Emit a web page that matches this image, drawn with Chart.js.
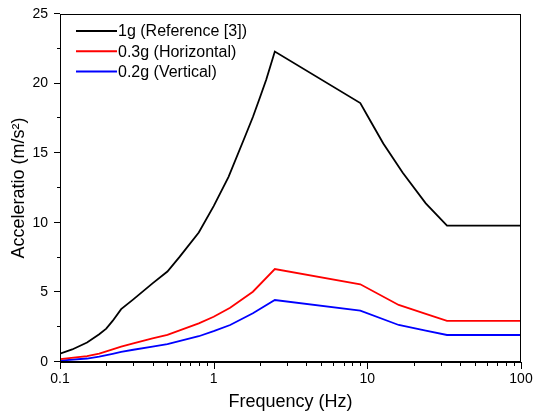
<!DOCTYPE html>
<html>
<head>
<meta charset="utf-8">
<script src="https://cdn.jsdelivr.net/npm/chart.js@4"></script>
<style>
  html, body { margin: 0; padding: 0; background: #fff; }
  #wrap { width: 534px; height: 415px; }
</style>
</head>
<body>
<div id="wrap"><canvas id="c" width="534" height="415"></canvas></div>
<script>
const seriesLabels = ['1g (Reference [3])', '0.3g (Horizontal)', '0.2g (Vertical)'];
const seriesColors = ['#000000', '#ff0000', '#0000ff'];

const blackFreq = [0.1, 0.12, 0.15, 0.18, 0.2, 0.22, 0.25, 0.3, 0.4, 0.5, 0.6, 0.8, 1, 1.25, 1.6, 1.8, 2, 2.2, 2.5, 9, 10.5, 12.7, 17, 24, 33, 100];
const blackAcc  = [0.6, 0.9, 1.4, 2.0, 2.4, 2.95, 3.8, 4.5, 5.65, 6.5, 7.55, 9.3, 11.2, 13.3, 16.2, 17.6, 19.0, 20.3, 22.3, 18.6, 17.3, 15.7, 13.6, 11.4, 9.8, 9.8];

const redFreq = [0.1, 0.15, 0.18, 0.22, 0.25, 0.3, 0.4, 0.5, 0.8, 1, 1.28, 1.8, 2.5, 9, 16, 24, 33, 100];
const redAcc  = [0.2, 0.42, 0.6, 0.9, 1.1, 1.34, 1.69, 1.95, 2.78, 3.25, 3.9, 5.05, 6.68, 5.58, 4.1, 3.45, 2.96, 2.96];

const blueFreq = [0.1, 0.15, 0.18, 0.22, 0.25, 0.3, 0.4, 0.5, 0.8, 1, 1.28, 1.8, 2.5, 9, 16, 24, 33, 100];
const blueAcc  = [0.1, 0.25, 0.38, 0.58, 0.72, 0.88, 1.1, 1.29, 1.85, 2.22, 2.66, 3.5, 4.45, 3.69, 2.66, 2.25, 1.94, 1.94];

const xTickLabels = ['0.1', '1', '10', '100'];
const yTickValues = [0, 5, 10, 15, 20, 25];

const xTitle = 'Frequency (Hz)';
const yTitle = 'Acceleratio (m/s\u00B2)';

const FONT = '"Liberation Sans", Arial, sans-serif';

function toPoints(xs, ys) { return xs.map((x, i) => ({ x: x, y: ys[i] })); }

const tickMarks = {
  id: 'tickMarks',
  afterDraw(chart) {
    const ctx = chart.ctx;
    const xs = chart.scales.x, ys = chart.scales.y;
    const a = chart.chartArea;
    ctx.save();
    ctx.strokeStyle = '#000';
    ctx.lineWidth = 1;
    ctx.strokeRect(Math.round(a.left) + 0.5, Math.round(a.top) + 0.5, Math.round(a.right - a.left) - 1, Math.round(a.bottom - a.top) - 1);
    ctx.beginPath();
    for (let k = -1; k <= 2; k++) {
      for (let m = 1; m <= 9; m++) {
        const f = m * Math.pow(10, k);
        if (f < xs.min * 0.999 || f > xs.max * 1.001) continue;
        const px = Math.round(xs.getPixelForValue(f)) + 0.5;
        const len = m === 1 ? 7 : 4;
        ctx.moveTo(px, a.bottom);
        ctx.lineTo(px, a.bottom + len);
      }
    }
    for (let i = 0; i <= 10; i++) {
      const v = i * 2.5;
      const py = Math.round(ys.getPixelForValue(v)) - 0.5;
      const len = i % 2 === 0 ? 6 : 3;
      ctx.moveTo(a.left, py);
      ctx.lineTo(a.left - len, py);
    }
    ctx.stroke();
    ctx.restore();
  }
};

const innerLegend = {
  id: 'innerLegend',
  afterDraw(chart) {
    const ctx = chart.ctx;
    const a = chart.chartArea;
    ctx.save();
    ctx.font = '16px ' + FONT;
    ctx.textBaseline = 'middle';
    ctx.textAlign = 'left';
    chart.data.datasets.forEach((ds, i) => {
      const y = a.top + 17 + i * 20.3;
      ctx.strokeStyle = ds.borderColor;
      ctx.lineWidth = 2;
      ctx.beginPath();
      ctx.moveTo(a.left + 16, y);
      ctx.lineTo(a.left + 57, y);
      ctx.stroke();
      ctx.fillStyle = '#000';
      ctx.fillText(ds.label, a.left + 58, y + 1);
    });
    ctx.restore();
  }
};

new Chart(document.getElementById('c'), {
  type: 'line',
  data: {
    datasets: [
      { label: seriesLabels[0], data: toPoints(blackFreq, blackAcc), borderColor: seriesColors[0] },
      { label: seriesLabels[1], data: toPoints(redFreq, redAcc), borderColor: seriesColors[1] },
      { label: seriesLabels[2], data: toPoints(blueFreq, blueAcc), borderColor: seriesColors[2] }
    ].map(d => Object.assign(d, { borderWidth: 1.8, pointRadius: 0, tension: 0, fill: false, backgroundColor: d.borderColor }))
  },
  options: {
    responsive: false,
    animation: false,
    layout: { padding: { left: 0, top: 14, right: 13, bottom: 0 } },
    plugins: { legend: { display: false }, tooltip: { enabled: false } },
    scales: {
      x: {
        type: 'logarithmic',
        min: 0.1, max: 100,
        grid: { display: false, drawTicks: false },
        border: { display: true, color: '#000', width: 1 },
        afterFit: s => { s.height = 53; s.paddingLeft = 0; s.paddingRight = 0; },
        ticks: {
          autoSkip: false, maxRotation: 0, minRotation: 0, padding: 9,
          color: '#000', font: { family: FONT, size: 14 },
          callback: function (v) {
            const s = String(Number(v.toPrecision(3)));
            return xTickLabels.includes(s) ? s : '';
          }
        },
        title: { display: true, text: xTitle, color: '#000', font: { family: FONT, size: 18 }, padding: { top: 0, bottom: 2 } }
      },
      y: {
        type: 'linear',
        min: 0, max: 25,
        grid: { display: false, drawTicks: false },
        border: { display: true, color: '#000', width: 1 },
        afterFit: s => { s.width = 60; s.paddingTop = 0; s.paddingBottom = 0; },
        afterBuildTicks: s => { s.ticks = yTickValues.map(v => ({ value: v })); },
        ticks: { padding: 12, color: '#000', font: { family: FONT, size: 14 } },
        title: { display: true, text: yTitle, color: '#000', font: { family: FONT, size: 18 }, padding: { top: 8, bottom: 0 } }
      }
    }
  },
  plugins: [tickMarks, innerLegend]
});
</script>
</body>
</html>
